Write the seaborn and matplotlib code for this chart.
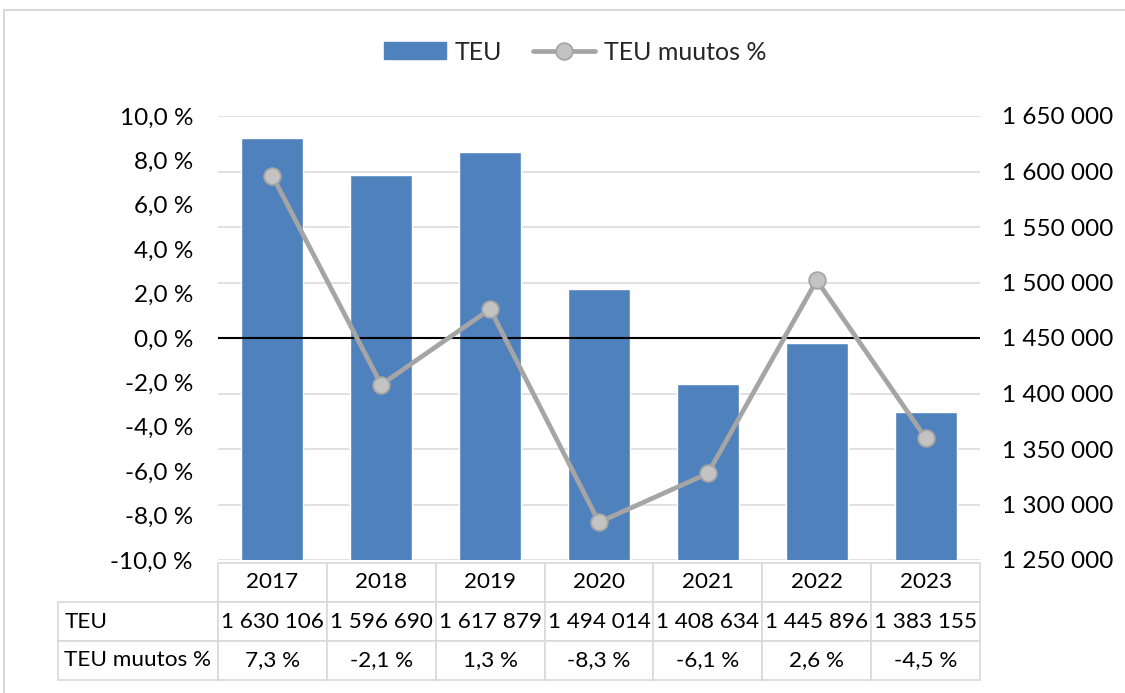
import matplotlib
matplotlib.use("Agg")
import matplotlib.pyplot as plt
import seaborn as sns
import pandas as pd
from matplotlib.ticker import FuncFormatter, MultipleLocator
from matplotlib.lines import Line2D
from matplotlib.patches import Patch, Rectangle
from matplotlib.table import Table

# ---- data ----
years = ["2017", "2018", "2019", "2020", "2021", "2022", "2023"]
teu = [1630106, 1596690, 1617879, 1494014, 1408634, 1445896, 1383155]
teu_change = [7.3, -2.1, 1.3, -8.3, -6.1, 2.6, -4.5]
series_names = ["TEU", "TEU muutos %"]

sns.set_theme(style="white")
plt.rcParams['font.family'] = ['Lato', 'DejaVu Sans']

BAR = "#4F81BD"
LINE = "#A5A5A5"
MFACE = "#C3C3C3"
GRID = "#D9D9D9"
FS_TICK = 17.5
FS_TABLE = 16.2
FS_LEG = 18

def fmt_int(v, pos=None):
    return f"{int(round(v)):,}".replace(",", " ")

def fmt_pct(v, pos=None):
    return f"{v:.1f}".replace(".", ",") + " %"

df = pd.DataFrame({"year": years, "teu": teu, "change": teu_change})

fig = plt.figure(figsize=(11.25, 6.93), dpi=100)
ax1 = fig.add_axes([218 / 1125, 1 - 560 / 693, 762 / 1125, 444 / 693])
ax2 = ax1.twinx()

# bars on right axis
sns.barplot(data=df, x="year", y="teu", ax=ax2, color=BAR, width=0.57,
            saturation=1, zorder=2)
ax2.set_ylim(1250000, 1650000)
ax2.yaxis.set_major_locator(MultipleLocator(50000))
ax2.yaxis.set_major_formatter(FuncFormatter(fmt_int))
ax2.yaxis.grid(True, color=GRID, lw=1.1)
ax2.set_axisbelow(True)

# line on left axis
sns.lineplot(data=df, x="year", y="change", ax=ax1, color=LINE, lw=3.4,
             marker="o", markersize=12, markerfacecolor=MFACE,
             markeredgecolor=LINE, markeredgewidth=1.3, sort=False, zorder=3)
ax1.axhline(0, color="black", lw=1.5, zorder=2)
ax1.set_ylim(-10, 10)
ax1.yaxis.set_major_locator(MultipleLocator(2))
ax1.yaxis.set_major_formatter(FuncFormatter(fmt_pct))
ax1.set_xlim(-0.5, len(years) - 0.5)

ax1.set_zorder(ax2.get_zorder() + 1)
ax1.patch.set_visible(False)

for ax in (ax1, ax2):
    for s in ax.spines.values():
        s.set_visible(False)
    ax.set_xlabel("")
    ax.set_ylabel("")
    ax.tick_params(axis="x", bottom=False, labelbottom=False, top=False)
ax1.tick_params(axis="y", length=0, pad=18, labelsize=FS_TICK, labelcolor="black")
ax2.tick_params(axis="y", length=0, pad=16, labelsize=FS_TICK, labelcolor="black")

# data table below the axes (bbox covers the data columns; label column sits left)
tbl = Table(ax1, bbox=[0, -120 / 444, 1, 117 / 444])
lab_w = 160 / 762
col_w = 1 / len(years)
for j, y in enumerate(years):
    tbl.add_cell(0, j, col_w, 1, text=y, loc="center")
rows = [[fmt_int(v) for v in teu], [fmt_pct(v) for v in teu_change]]
for i, (name, vals) in enumerate(zip(series_names, rows), start=1):
    c = tbl.add_cell(i, -1, lab_w, 1, text=name, loc="left")
    c.PAD = 0.04
    for j, v in enumerate(vals):
        tbl.add_cell(i, j, col_w, 1, text=v, loc="center")
tbl.auto_set_font_size(False)
tbl.set_fontsize(FS_TABLE)
for cell in tbl.get_celld().values():
    cell.set_edgecolor(GRID)
    cell.set_linewidth(1.2)
    cell.get_text().set_color("black")
ax1.add_table(tbl)

# legend
handles = [
    Patch(facecolor=BAR, edgecolor=BAR, label=series_names[0]),
    Line2D([], [], color=LINE, lw=3.4, marker="o", markersize=12,
           markerfacecolor=MFACE, markeredgecolor=LINE, markeredgewidth=1.3,
           label=series_names[1]),
]
fig.legend(handles=handles, loc="center", bbox_to_anchor=(575 / 1125, 1 - 52 / 693),
           ncol=2, frameon=False, fontsize=FS_LEG, handlelength=2.5, handleheight=0.65,
           handletextpad=0.35, columnspacing=1.2)

# outer chart border
fig.add_artist(Rectangle((4 / 1125, -0.05), 1.0, 1 - 10 / 693 + 0.05,
                         transform=fig.transFigure, fill=False,
                         edgecolor=GRID, lw=1.5))

fig.savefig("out.png", dpi=100)
